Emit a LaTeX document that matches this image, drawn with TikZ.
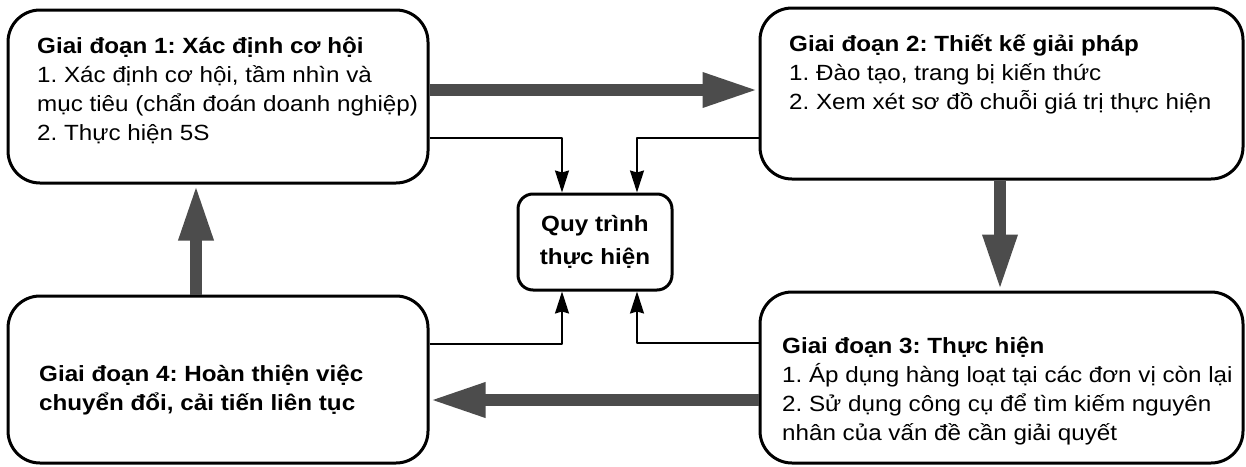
\documentclass[tikz,border=0pt]{standalone}
\usepackage{fontspec}
\setmainfont{Liberation Sans}[FakeStretch=1.1]
\usetikzlibrary{arrows.meta}

\begin{document}
\frenchspacing
\begin{tikzpicture}[
	x=1pt,
	y=-1pt,
	line join=round,
	stage/.style={draw,line width=3pt,rounded corners=32pt},
	proc/.style={draw,line width=3pt,rounded corners=15pt,minimum width=154pt,minimum height=96pt,align=center,font=\fontsize{22}{33}\selectfont\bfseries},
	txt/.style={anchor=north west,inner sep=0pt,align=left,font=\fontsize{22}{29}\selectfont\frenchspacing},
	bigarrow/.style={line width=12pt,draw=black!70,-{Triangle[length=56pt,width=32pt]}},
	link/.style={line width=1.6pt,-{Stealth[length=22pt,width=14pt,inset=2pt]}}
]
\useasboundingbox (0,0) rectangle (1246,466);

\node[stage,minimum width=420pt,minimum height=173pt] (g1) at (218,96.5) {};
\node[stage,minimum width=483pt,minimum height=171pt] (g2) at (1001.5,93.5) {};
\node[stage,minimum width=483pt,minimum height=171pt] (g3) at (1001.5,377.5) {};
\node[stage,minimum width=420pt,minimum height=167pt] (g4) at (218,379.5) {};
\node[proc] (qt) at (595,242) {Quy trình\\thực hiện};

\node[txt] (t1) at (37,32.7) {{\bfseries Giai đoạn 1: Xác định cơ hội}\strut\\1. Xác định cơ hội, tầm nhìn và\\mục tiêu (chẩn đoán doanh nghiệp)\\2. Thực hiện 5S};
\node[txt] (t2) at (789,30.7) {{\bfseries Giai đoạn 2: Thiết kế giải pháp}\strut\\1. Đào tạo, trang bị kiến thức\\2. Xem xét sơ đồ chuỗi giá trị thực hiện};
\node[txt] (t3) at (782,332.7) {{\bfseries Giai đoạn 3: Thực hiện}\strut\\1. Áp dụng hàng loạt tại các đơn vị còn lại\\2. Sử dụng công cụ để tìm kiếm nguyên\\nhân của vấn đề cần giải quyết};
\node[txt] (t4) at (39,360.7) {\bfseries Giai đoạn 4: Hoàn thiện việc\strut\\\bfseries chuyển đổi, cải tiến liên tục};

% big flow between stages
\draw[bigarrow] (g1.east |- 0,90) -- (g2.west |- 0,90);
\draw[bigarrow] (g2.south -| 1000,0) -- (g3.north -| 1000,0);
\draw[bigarrow] (g3.west |- 0,400) -- (g4.east |- 0,400);
\draw[bigarrow] (g4.north -| 196,0) -- (g1.south -| 196,0);

% links to the process box
\draw[link] (g1.east |- 0,138) -| ([xshift=-33pt]qt.north);
\draw[link] (g2.west |- 0,138) -| ([xshift=42pt]qt.north);
\draw[link] (g4.east |- 0,344) -| ([xshift=-33pt]qt.south);
\draw[link] (g3.west |- 0,343) -| ([xshift=42pt]qt.south);
\end{tikzpicture}
\end{document}
